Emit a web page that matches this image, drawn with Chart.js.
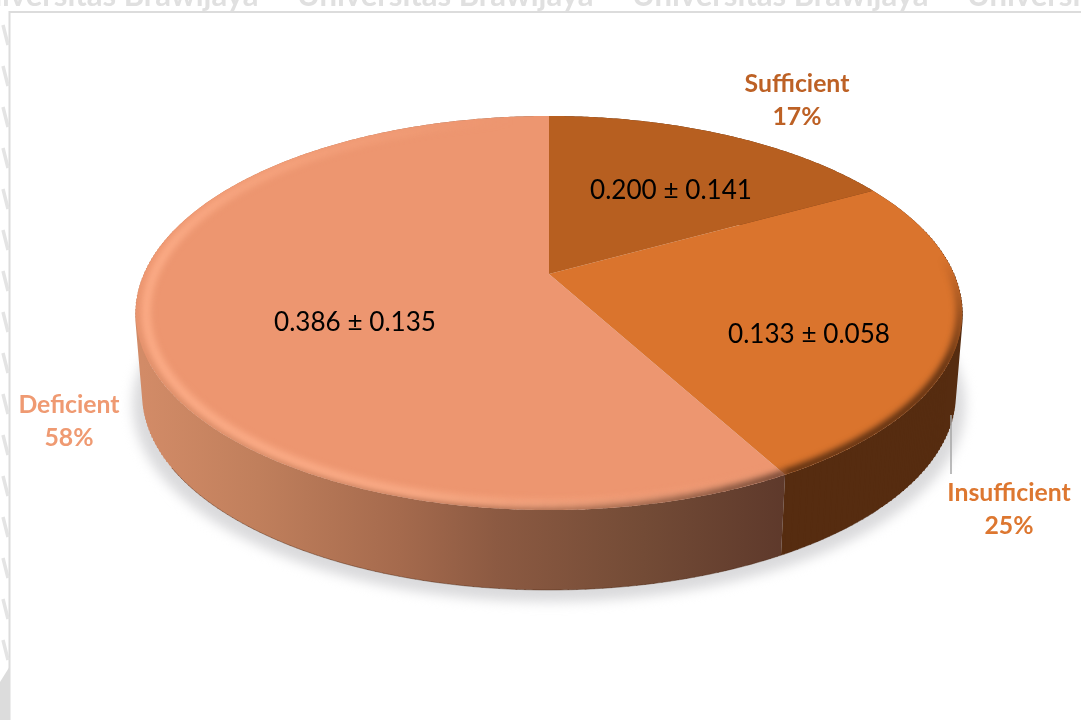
<!DOCTYPE html>
<html>
<head>
<meta charset="utf-8">
<style>
  html, body { margin: 0; padding: 0; background: #fff; }
  canvas { display: block; }
</style>
<script src="https://cdn.jsdelivr.net/npm/chart.js@4/dist/chart.umd.min.js"></script>
</head>
<body>
<canvas id="pie" width="1081" height="720"></canvas>
<script>
const categories = ['Sufficient', 'Insufficient', 'Deficient'];
const percents = [17, 25, 58];
const valueLabels = ['0.200 ± 0.141', '0.133 ± 0.058', '0.386 ± 0.135'];
const sliceColors = ['#b75f20', '#da742d', '#ed9670'];
const labelColors = ['#bd6125', '#dd7730', '#ef9a72'];
const watermark = 'Universitas Brawijaya';

// perspective of the disc, fitted by eye to the picture
const cx = 549, k = -0.198;
const topFace = { a: 405, b: 189.3, cy: 274 };
const baseFace = { a: 398, b: 186.4, cy: 357.6 };
const deg = Math.PI / 180;

const labelPos = [[797, 84], [1009, 493], [69, 405]];
const valuePos = [[671, 191], [809, 335], [355, 323]];

function point(m, t, s) {
  const d = 1 + k * Math.sin(t);
  return [cx + m.a * s * Math.cos(t) / d, m.cy + m.b * s * Math.sin(t) / d];
}

function trace(c, m, a0, a1, s, join) {
  const n = Math.max(2, Math.ceil(Math.abs(a1 - a0) / (0.5 * deg)));
  for (let i = 0; i <= n; i++) {
    const p = point(m, a0 + (a1 - a0) * i / n, s);
    if (i === 0 && !join) c.moveTo(p[0], p[1]); else c.lineTo(p[0], p[1]);
  }
}

function slicePath(c, a0, a1) {
  c.beginPath();
  c.moveTo(cx, topFace.cy);
  trace(c, topFace, a0, a1, 1, true);
  c.closePath();
}

function wholePath(c) {
  c.beginPath();
  trace(c, topFace, 0, Math.PI * 2, 1);
  c.closePath();
  trace(c, baseFace, 0, Math.PI * 2, 1);
  c.closePath();
  trace(c, topFace, -5 * deg, 185 * deg, 1);
  trace(c, baseFace, 185 * deg, -5 * deg, 1, true);
  c.closePath();
}

// soft stroke along a rim, alpha changes with the angle
function softRim(c, m, a0, a1, s, style, width, blur, alphaAt, clip) {
  const off = document.createElement('canvas');
  off.width = 1081; off.height = 720;
  const o = off.getContext('2d');
  o.strokeStyle = style;
  o.lineWidth = width;
  const step = 2 * deg;
  for (let t = a0; t < a1; t += step) {
    o.globalAlpha = Math.max(0, Math.min(1, alphaAt(t / deg)));
    o.beginPath();
    trace(o, m, t, Math.min(a1, t + step * 1.05), s);
    o.stroke();
  }
  c.save();
  clip();
  c.clip();
  c.filter = 'blur(' + blur + 'px)';
  c.drawImage(off, 0, 0);
  c.restore();
}

function ramp(v, x0, y0, x1, y1) {
  if (v <= x0) return y0;
  if (v >= x1) return y1;
  return y0 + (y1 - y0) * (v - x0) / (x1 - x0);
}

function drawBackdrop(c) {
  c.save();
  c.fillStyle = '#e0e0e0';
  c.font = 'bold 31px Lato';
  c.textBaseline = 'alphabetic';
  for (let x = -38; x < 1081; x += 335) c.fillText(watermark, x, 6);
  c.strokeStyle = '#dcdcdc';
  c.lineWidth = 2;
  c.beginPath();
  c.moveTo(1081, 12); c.lineTo(9.5, 12); c.lineTo(9.5, 720);
  c.stroke();
  c.strokeStyle = '#e4e4e4';
  c.lineWidth = 3.5;
  for (let y = 25; y < 660; y += 41) {
    c.beginPath();
    c.moveTo(3, y); c.lineTo(8, y + 20);
    c.stroke();
  }
  c.fillStyle = '#dcdcdc';
  c.beginPath();
  c.moveTo(0, 682); c.lineTo(10, 666); c.lineTo(10, 720); c.lineTo(0, 720);
  c.closePath();
  c.fill();
  c.restore();
}

const disc3d = {
  id: 'disc3d',
  beforeDatasetDraw(chart) {
    const c = chart.ctx;
    const arcs = chart.getDatasetMeta(0).data;
    const colors = chart.data.datasets[0].backgroundColor;
    drawBackdrop(c);

    // ground shadow
    c.save();
    c.filter = 'blur(6px)';
    c.fillStyle = '#dadadc';
    c.beginPath();
    trace(c, { a: baseFace.a + 10, b: baseFace.b + 3, cy: baseFace.cy + 8 }, 0, Math.PI * 2, 1);
    c.closePath();
    c.fill();
    c.restore();

    const sideGrad = c.createLinearGradient(143, 0, 785, 0);
    sideGrad.addColorStop(0, '#d28b67');
    sideGrad.addColorStop(0.18, '#c07f5c');
    sideGrad.addColorStop(0.4, '#a56a4d');
    sideGrad.addColorStop(0.55, '#8c5a42');
    sideGrad.addColorStop(0.78, '#734b36');
    sideGrad.addColorStop(1, '#5e392b');
    const sideDark = '#562c10';
    const sides = [sideDark, sideDark, sideGrad];

    // walls, the short strokes close the hull between both rims
    arcs.forEach((arc, i) => {
      c.fillStyle = sides[i];
      c.strokeStyle = sides[i];
      c.lineWidth = 1.5;
      c.beginPath();
      trace(c, topFace, arc.startAngle, arc.endAngle, 1);
      trace(c, baseFace, arc.endAngle, arc.startAngle, 1, true);
      c.closePath();
      c.fill();
      c.beginPath();
      for (let t = arc.startAngle + 0.01; t < arc.endAngle; t += deg) {
        const a = point(topFace, t, 1), b = point(baseFace, t, 1);
        if (Math.sin(t) < -0.25) continue;
        c.moveTo(a[0], a[1]);
        c.lineTo(b[0], b[1]);
      }
      c.stroke();
    });

    // bottom edge line
    c.save();
    c.strokeStyle = 'rgba(70,35,15,0.4)';
    c.lineWidth = 1;
    c.beginPath();
    trace(c, baseFace, 45 * deg, 148 * deg, 1);
    c.stroke();
    c.restore();

    // top faces
    arcs.forEach((arc, i) => {
      c.fillStyle = colors[i];
      slicePath(c, arc.startAngle, arc.endAngle);
      c.fill();
    });

    const low = arcs[2], mid = arcs[1];

    // wall colour bleeding over the front rim
    softRim(c, topFace, mid.startAngle, mid.endAngle, 0.995, sideDark, 8, 3,
      t => ramp(t, -6, 0, 25, 1), () => wholePath(c));
    softRim(c, topFace, low.startAngle, 180 * deg, 0.995, sideGrad, 7, 3,
      t => ramp(t, 61, 1, 150, 0.6) * ramp(t, 150, 1, 178, 0), () => wholePath(c));

    // light ridge on the salmon rim
    softRim(c, topFace, low.startAngle, 275 * deg, 0.975, '#fbab86', 9, 3,
      t => ramp(t, 61, 0.1, 105, 1) * ramp(t, 185, 1, 262, 0), () => slicePath(c, low.startAngle, low.endAngle));

    // labels
    c.save();
    c.textAlign = 'center';
    c.textBaseline = 'middle';
    categories.forEach((name, i) => {
      c.fillStyle = labelColors[i];
      c.font = 'bold 24.8px Lato';
      c.fillText(name, labelPos[i][0], labelPos[i][1]);
      c.fillText(percents[i] + '%', labelPos[i][0], labelPos[i][1] + 33);
      c.fillStyle = '#000';
      c.font = '26.1px Lato';
      c.fillText(valueLabels[i], valuePos[i][0], valuePos[i][1]);
    });
    c.strokeStyle = '#a6a6a6';
    c.lineWidth = 1.5;
    c.beginPath();
    c.moveTo(951, 415); c.lineTo(951, 474);
    c.stroke();
    c.restore();
    return false;
  }
};

new Chart(document.getElementById('pie'), {
  type: 'pie',
  data: {
    labels: categories,
    datasets: [{ data: percents, backgroundColor: sliceColors }]
  },
  options: {
    responsive: false,
    animation: false,
    plugins: { legend: { display: false }, tooltip: { enabled: false } }
  },
  plugins: [disc3d]
});
</script>
</body>
</html>
